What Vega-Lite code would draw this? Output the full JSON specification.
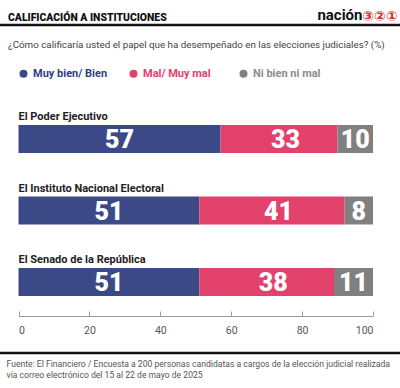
{
  "$schema": "https://vega.github.io/schema/vega-lite/v6.json",
  "width": 400,
  "height": 328,
  "autosize": {"type": "none"},
  "padding": {"left": 0, "top": 25, "right": 0, "bottom": 35},
  "background": "white",
  "view": {"stroke": "#111111", "strokeWidth": 2.5, "strokeDash": [400, 328, 400, 328]},
  "title": {
    "text": "CALIFICACIÓN A INSTITUCIONES",
    "subtitle": "¿Cómo calificaría usted el papel que ha desempeñado en las elecciones judiciales?  (%)",
    "anchor": "start",
    "frame": "group",
    "dx": 8,
    "offset": -43,
    "font": "Roboto",
    "fontSize": 10.4,
    "fontWeight": 900,
    "color": "#111111",
    "subtitleFont": "Roboto",
    "subtitleFontSize": 9.8,
    "subtitleColor": "#444444",
    "subtitlePadding": 17
  },
  "data": {
    "values": [
      {"institucion": "El Poder Ejecutivo", "categoria": "Muy bien/ Bien", "orden": 1, "valor": 57},
      {"institucion": "El Poder Ejecutivo", "categoria": "Mal/ Muy mal", "orden": 2, "valor": 33},
      {"institucion": "El Poder Ejecutivo", "categoria": "Ni bien ni mal", "orden": 3, "valor": 10},
      {"institucion": "El Instituto Nacional Electoral", "categoria": "Muy bien/ Bien", "orden": 1, "valor": 51},
      {"institucion": "El Instituto Nacional Electoral", "categoria": "Mal/ Muy mal", "orden": 2, "valor": 41},
      {"institucion": "El Instituto Nacional Electoral", "categoria": "Ni bien ni mal", "orden": 3, "valor": 8},
      {"institucion": "El Senado de la República", "categoria": "Muy bien/ Bien", "orden": 1, "valor": 51},
      {"institucion": "El Senado de la República", "categoria": "Mal/ Muy mal", "orden": 2, "valor": 38},
      {"institucion": "El Senado de la República", "categoria": "Ni bien ni mal", "orden": 3, "valor": 11}
    ]
  },
  "transform": [
    {"stack": "valor", "groupby": ["institucion"], "sort": [{"field": "orden", "order": "ascending"}], "as": ["v0", "v1"]}
  ],
  "encoding": {
    "y": {
      "field": "institucion",
      "type": "nominal",
      "sort": ["El Poder Ejecutivo", "El Instituto Nacional Electoral", "El Senado de la República"],
      "scale": {"range": [100, 271], "paddingInner": 0.6084, "paddingOuter": 0},
      "axis": {
        "domain": false, "ticks": false, "labels": false, "grid": false,
        "title": "nación",
        "titleAngle": 0,
        "titleX": 362,
        "titleY": -6,
        "titleAlign": "right",
        "titleBaseline": "alphabetic",
        "titleFont": "Roboto",
        "titleFontSize": 15,
        "titleFontWeight": "bold",
        "titleColor": "#111111"
      }
    }
  },
  "layer": [
    {
      "mark": {"type": "bar"},
      "encoding": {
        "x": {
          "field": "v0",
          "type": "quantitative",
          "scale": {"domain": [0, 100], "range": [18.5, 373]},
          "axis": {
            "orient": "bottom",
            "values": [0, 20, 40, 60, 80, 100],
            "offset": -37,
            "grid": false,
            "domainColor": "#9a9a9a",
            "tickColor": "#9a9a9a",
            "tickSize": -5,
            "labelPadding": 14,
            "labelFont": "Roboto",
            "labelFontSize": 10.5,
            "labelColor": "#555555",
            "title": ["Fuente: El Financiero / Encuesta a 200 personas candidatas a cargos de la elección judicial realizada", "vía correo electrónico del 15 al 22 de mayo de 2025"],
            "titleAnchor": "start",
            "titleAlign": "left",
            "titleBaseline": "middle",
            "titleX": 6,
            "titleY": 47,
            "titleFont": "Roboto",
            "titleFontSize": 8.6,
            "titleFontWeight": "normal",
            "titleColor": "#555555",
            "titleLineHeight": 11
          }
        },
        "x2": {"field": "v1"},
        "color": {
          "field": "categoria",
          "type": "nominal",
          "scale": {"domain": ["Muy bien/ Bien", "Mal/ Muy mal", "Ni bien ni mal"], "range": ["#3b4a87", "#e2416b", "#808080"]},
          "legend": {
            "orient": "none",
            "legendX": 18,
            "legendY": 43,
            "direction": "horizontal",
            "columns": 3,
            "gridAlign": "all",
            "title": null,
            "symbolType": "circle",
            "symbolSize": 64,
            "symbolStrokeWidth": 0,
            "symbolOpacity": 1,
            "labelFont": "Roboto",
            "labelFontSize": 11,
            "labelFontWeight": "bold",
            "labelOffset": 4,
            "labelLimit": 200,
            "columnPadding": 20,
            "encode": {
              "labels": {
                "update": {
                  "fill": [
                    {"test": "datum.value === 'Muy bien/ Bien'", "value": "#2e3f82"},
                    {"test": "datum.value === 'Mal/ Muy mal'", "value": "#e2416b"},
                    {"value": "#8c8c8c"}
                  ]
                }
              }
            }
          }
        }
      }
    },
    {
      "transform": [
        {"filter": "datum.orden !== 2"},
        {"fold": ["v0", "v1"], "as": ["extremo", "pos"]},
        {"aggregate": [{"op": "mean", "field": "pos", "as": "medio"}], "groupby": ["institucion", "categoria", "valor"]}
      ],
      "mark": {"type": "text", "font": "Roboto", "fontSize": 25, "fontWeight": 900, "color": "white", "baseline": "middle", "align": "center", "dy": 1},
      "encoding": {
        "x": {"field": "medio", "type": "quantitative", "axis": null},
        "text": {"field": "valor", "type": "quantitative"}
      }
    },
    {
      "transform": [
        {"filter": "datum.orden === 2"},
        {"fold": ["v0", "v1"], "as": ["extremo", "pos"]},
        {"aggregate": [{"op": "mean", "field": "pos", "as": "medio"}], "groupby": ["institucion", "categoria", "valor"]}
      ],
      "mark": {"type": "text", "font": "Roboto", "fontSize": 25, "fontWeight": 900, "color": "white", "baseline": "middle", "align": "center", "dy": 1, "dx": 6.5},
      "encoding": {
        "x": {"field": "medio", "type": "quantitative", "axis": null},
        "text": {"field": "valor", "type": "quantitative"}
      }
    },
    {
      "transform": [{"filter": "datum.orden === 1"}],
      "mark": {"type": "text", "font": "Roboto", "fontSize": 11, "fontWeight": "bold", "color": "#222222", "baseline": "middle", "align": "left", "dy": -22},
      "encoding": {
        "x": {
          "datum": 0,
          "type": "quantitative",
          "axis": {
            "orient": "top",
            "domain": false, "ticks": false, "labels": false, "grid": false,
            "title": "③②①",
            "titleAnchor": "end",
            "titleAlign": "right",
            "titleBaseline": "alphabetic",
            "titleX": 397,
            "titleY": -5,
            "titleFont": "DejaVu Sans",
            "titleFontSize": 14,
            "titleFontWeight": "bold",
            "titleColor": "#d7262e"
          }
        },
        "text": {"field": "institucion", "type": "nominal"}
      }
    }
  ],
  "resolve": {"axis": {"x": "independent"}}
}
